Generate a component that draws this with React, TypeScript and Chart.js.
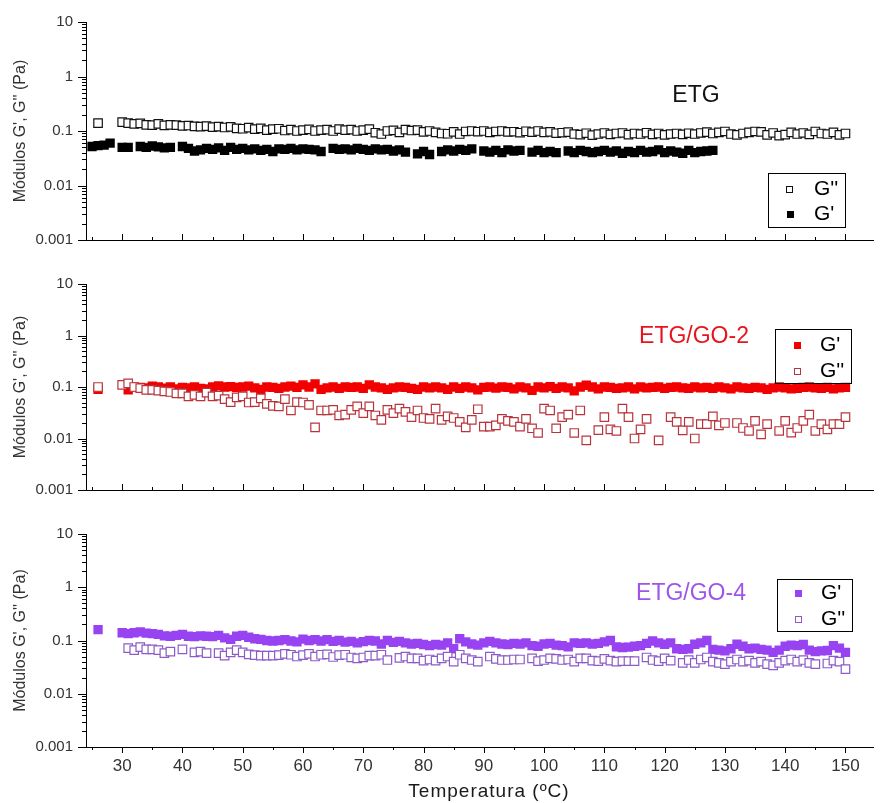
import React, { useEffect, useRef } from "react";
import { Chart, registerables } from "chart.js";

Chart.register(...registerables);

// Temperature (°C) grid, one reading per degree
const temps = [
  25, 26, 27, 28, 29, 30, 31, 32, 33, 34,
  35, 36, 37, 38, 39, 40, 41, 42, 43, 44,
  45, 46, 47, 48, 49, 50, 51, 52, 53, 54,
  55, 56, 57, 58, 59, 60, 61, 62, 63, 64,
  65, 66, 67, 68, 69, 70, 71, 72, 73, 74,
  75, 76, 77, 78, 79, 80, 81, 82, 83, 84,
  85, 86, 87, 88, 89, 90, 91, 92, 93, 94,
  95, 96, 97, 98, 99, 100, 101, 102, 103, 104,
  105, 106, 107, 108, 109, 110, 111, 112, 113, 114,
  115, 116, 117, 118, 119, 120, 121, 122, 123, 124,
  125, 126, 127, 128, 129, 130, 131, 132, 133, 134,
  135, 136, 137, 138, 139, 140, 141, 142, 143, 144,
  145, 146, 147, 148, 149, 150,
];

// ETG — G'' (open) and G' (filled), Pa
const etgGpp = [
  null, 0.14, null, null, null, 0.145, 0.14, 0.135, 0.138, 0.13,
  0.128, 0.135, 0.127, 0.13, 0.128, 0.124, 0.126, 0.122, 0.12, 0.123,
  0.118, 0.12, 0.116, 0.119, 0.112, 0.11, 0.115, 0.108, 0.112, 0.104,
  0.108, 0.11, 0.102, 0.106, 0.1, 0.104, 0.107, 0.1, 0.104, 0.106,
  0.1, 0.108, 0.104, 0.106, 0.1, 0.104, 0.108, 0.093, 0.088, 0.1,
  0.103, 0.094, 0.106, 0.102, 0.104, 0.096, 0.1, 0.094, 0.09, 0.089,
  0.096, 0.088, 0.098, 0.1, 0.097, 0.1, 0.094, 0.098, 0.1, 0.096,
  0.097, 0.093, 0.099, 0.095, 0.1, 0.094, 0.096, 0.091, 0.093, 0.095,
  0.088, 0.086, 0.091, 0.084, 0.088, 0.092, 0.087, 0.09, 0.092, 0.086,
  0.09, 0.088, 0.093, 0.087, 0.09, 0.085, 0.088, 0.09, 0.087, 0.091,
  0.088, 0.092, 0.095, 0.09, 0.094, 0.098, 0.088, 0.085, 0.09, 0.094,
  0.098, 0.096, 0.085, 0.092, 0.082, 0.086, 0.094, 0.088, 0.092, 0.087,
  0.098, 0.09, 0.088, 0.094, 0.085, 0.09,
];
const etgGp = [
  0.052, 0.054, 0.055, 0.06, null, 0.05, 0.05, null, 0.052, 0.05,
  0.053, 0.051, 0.049, 0.05, null, 0.052, 0.048, 0.043, 0.045, 0.048,
  0.046, 0.049, 0.044, 0.05, 0.046, 0.048, 0.045, 0.047, 0.044, 0.046,
  0.042, 0.047, 0.046, 0.048, 0.045, 0.047, 0.046, 0.045, 0.042, null,
  0.048, 0.046, 0.047, 0.045, 0.048, 0.046, 0.044, 0.047, 0.045, 0.046,
  0.043, 0.045, 0.041, null, 0.038, 0.042, 0.037, null, 0.042, 0.045,
  0.043, 0.046, 0.044, 0.047, null, 0.043, 0.041, 0.044, 0.04, 0.045,
  0.043, 0.044, null, 0.041, 0.044, 0.04, 0.042, 0.04, null, 0.043,
  0.04, 0.044, 0.042, 0.04, 0.042, 0.044, 0.041, 0.043, 0.039, 0.042,
  0.04, 0.044, 0.041, 0.042, 0.045, 0.04, 0.043, 0.041, 0.039, 0.044,
  0.04, 0.042, 0.043, 0.044, null, null, null, null, null, null,
  null, null, null, null, null, null, null, null, null, null,
  null, null, null, null, null, null,
];

// ETG/GO-2
const go2Gp = [
  null, 0.09, null, null, null, null, 0.088, 0.1, 0.098, 0.096,
  0.104, 0.1, 0.095, 0.1, 0.092, 0.098, 0.096, 0.1, 0.094, 0.092,
  0.1, 0.105, 0.1, 0.102, 0.098, 0.1, 0.104, 0.096, 0.09, 0.1,
  0.098, 0.094, 0.1, 0.104, 0.098, 0.11, 0.1, 0.115, 0.09, 0.096,
  0.1, 0.094, 0.1, 0.098, 0.1, 0.094, 0.11, 0.1, 0.096, 0.09,
  0.096, 0.1, 0.098, 0.094, 0.09, 0.1, 0.096, 0.1, 0.096, 0.09,
  0.1, 0.094, 0.1, 0.096, 0.088, 0.098, 0.1, 0.095, 0.1, 0.098,
  0.092, 0.1, 0.096, 0.086, 0.1, 0.096, 0.102, 0.094, 0.1, 0.096,
  0.084, 0.1, 0.108, 0.1, 0.092, 0.1, 0.098, 0.094, 0.096, 0.1,
  0.092, 0.1, 0.096, 0.098, 0.1, 0.094, 0.098, 0.1, 0.096, 0.094,
  0.1, 0.096, 0.098, 0.094, 0.1, 0.096, 0.092, 0.1, 0.096, 0.094,
  0.098, 0.096, 0.09, 0.096, 0.1, 0.096, 0.092, 0.094, 0.098, 0.1,
  0.096, 0.094, 0.098, 0.092, 0.096, 0.098,
];
const go2Gpp = [
  null, 0.1, null, null, null, 0.11, 0.118, 0.1, 0.095, 0.088,
  0.088, 0.085, 0.082, 0.08, 0.075, 0.075, 0.066, 0.07, 0.066, 0.078,
  0.066, 0.068, 0.058, 0.051, 0.063, 0.066, 0.05, 0.051, 0.06, 0.047,
  0.043, 0.042, 0.058, 0.035, 0.051, 0.05, 0.045, 0.0165, 0.035, 0.035,
  0.036, 0.028, 0.029, 0.036, 0.042, 0.031, 0.042, 0.028, 0.023, 0.036,
  0.031, 0.038, 0.033, 0.026, 0.035, 0.025, 0.024, 0.038, 0.023, 0.027,
  0.025, 0.021, 0.0165, 0.023, 0.037, 0.017, 0.017, 0.018, 0.024, 0.022,
  0.021, 0.017, 0.024, 0.0158, 0.0128, 0.038, 0.035, 0.0158, 0.026, 0.029,
  0.0128, 0.035, 0.0092, null, 0.0146, 0.026, 0.015, 0.014, 0.038, 0.026,
  0.01, 0.015, 0.024, null, 0.0092, null, 0.026, 0.021, 0.0144, 0.021,
  0.01, 0.019, 0.019, 0.027, 0.018, 0.02, null, 0.02, 0.016, 0.014,
  0.022, 0.012, 0.019, null, 0.014, 0.022, 0.013, 0.016, 0.022, 0.029,
  0.014, 0.019, 0.015, 0.019, 0.019, 0.026,
];

// ETG/GO-4
const go4Gp = [
  null, 0.16, null, null, null, 0.14, 0.135, 0.14, 0.145, 0.138,
  0.135, 0.13, 0.122, 0.12, 0.125, 0.13, 0.12, 0.118, 0.122, 0.12,
  0.118, 0.125, 0.112, 0.105, 0.12, 0.125, 0.115, 0.108, 0.105, 0.1,
  0.098, 0.1, 0.104, 0.098, 0.094, 0.106, 0.1, 0.104, 0.098, 0.104,
  0.096, 0.1, 0.093, 0.096, 0.09, 0.095, 0.1, 0.098, 0.086, 0.1,
  0.092, 0.096, 0.09, 0.086, 0.088, 0.084, 0.08, 0.084, 0.082, 0.09,
  0.07, 0.108, 0.094, 0.086, 0.082, 0.09, 0.096, 0.09, 0.086, 0.084,
  0.088, 0.086, 0.09, 0.08, 0.078, 0.086, 0.088, 0.082, 0.08, 0.076,
  0.09, 0.088, 0.09, 0.086, 0.088, 0.094, 0.1, 0.076, 0.074, 0.075,
  0.078, 0.08, 0.088, 0.098, 0.09, 0.085, 0.09, 0.07, 0.068, 0.07,
  0.085, 0.09, 0.1, 0.068, 0.066, 0.064, 0.07, 0.085, 0.078, 0.07,
  0.072, 0.068, 0.066, 0.06, 0.066, 0.078, 0.082, 0.08, 0.084, 0.066,
  0.062, 0.064, 0.065, 0.08, 0.072, 0.06,
];
const go4Gpp = [
  null, null, null, null, null, null, 0.072, 0.066, 0.075, 0.068,
  0.068, 0.066, 0.058, 0.062, null, 0.068, null, 0.06, 0.062, 0.058,
  null, 0.058, 0.052, 0.06, 0.066, 0.06, 0.055, 0.053, 0.052, 0.052,
  0.052, 0.053, 0.056, 0.054, 0.05, 0.053, 0.056, 0.05, 0.054, 0.055,
  0.049, 0.053, 0.054, 0.048, 0.046, 0.048, 0.052, 0.052, 0.054, 0.043,
  null, 0.047, 0.05, 0.046, 0.046, 0.042, 0.044, 0.042, 0.046, 0.05,
  0.04, 0.054, 0.046, 0.043, 0.04, null, 0.05, 0.045, 0.043, 0.043,
  0.044, 0.044, null, 0.046, 0.041, 0.043, 0.046, 0.045, 0.043, 0.044,
  0.04, 0.046, 0.046, 0.042, 0.041, 0.045, 0.042, 0.04, 0.041, 0.041,
  0.041, null, 0.048, 0.043, 0.041, 0.046, 0.042, null, 0.038, 0.043,
  0.038, 0.044, 0.048, 0.04, 0.038, 0.036, 0.04, 0.044, 0.04, 0.042,
  0.038, 0.04, 0.036, 0.034, 0.038, 0.042, 0.044, 0.04, 0.043, 0.038,
  0.036, null, 0.037, 0.042, 0.04, 0.029,
];

// Axis ticks
const xTickLabels = [30, 40, 50, 60, 70, 80, 90, 100, 110, 120, 130, 140, 150];
const xMinorTicks = [25, 35, 45, 55, 65, 75, 85, 95, 105, 115, 125, 135, 145];
const yTickLabels = [0.001, 0.01, 0.1, 1, 10];
const yMinorMultipliers = [2, 3, 4, 5, 6, 7, 8, 9];

const FONT = "'Liberation Sans', Arial, Helvetica, sans-serif";
const yTitle = "Módulos G', G'' (Pa)";
const xTitle = "Temperatura (ºC)";

type LegendItem = { label: string; filled: boolean; color: string };
type Panel = {
  top: number;
  height: number;
  padTop: number;
  axisBottom: number; // chart-area bottom in canvas coords
  showXLabels: boolean;
  ticksOut: boolean;
  series: { values: (number | null)[]; filled: boolean; color: string; label: string }[];
  annotation: { text: string; x: number; y: number; color: string };
  legendBox: { x1: number; y1: number; x2: number; y2: number };
  legendItems: (LegendItem & { mx: number; my: number; tx: number })[];
};

const panels: Panel[] = [
  {
    top: 0,
    height: 262,
    padTop: 15,
    axisBottom: 241,
    showXLabels: false,
    ticksOut: false,
    series: [
      { values: etgGpp, filled: false, color: "#111111", label: "G''" },
      { values: etgGp, filled: true, color: "#000000", label: "G'" },
    ],
    annotation: { text: "ETG", x: 696, y: 96, color: "#111111" },
    legendBox: { x1: 768, y1: 173, x2: 845, y2: 227 },
    legendItems: [
      { label: "G''", filled: false, color: "#111111", mx: 789, my: 189, tx: 814 },
      { label: "G'", filled: true, color: "#000000", mx: 790, my: 214, tx: 814 },
    ],
  },
  {
    top: 262,
    height: 250,
    padTop: 18,
    axisBottom: 237,
    showXLabels: false,
    ticksOut: false,
    series: [
      { values: go2Gpp, filled: false, color: "#B8343C", label: "G''" },
      { values: go2Gp, filled: true, color: "#F20000", label: "G'" },
    ],
    annotation: { text: "ETG/GO-2", x: 694, y: 75, color: "#E8141B" },
    legendBox: { x1: 775, y1: 67, x2: 851, y2: 121 },
    legendItems: [
      { label: "G'", filled: true, color: "#F20000", mx: 797, my: 83, tx: 820 },
      { label: "G''", filled: false, color: "#B8343C", mx: 797, my: 109, tx: 820 },
    ],
  },
  {
    top: 512,
    height: 291,
    padTop: 13,
    axisBottom: 235,
    showXLabels: true,
    ticksOut: true,
    series: [
      { values: go4Gpp, filled: false, color: "#8C5BC8", label: "G''" },
      { values: go4Gp, filled: true, color: "#9843F2", label: "G'" },
    ],
    annotation: { text: "ETG/GO-4", x: 691, y: 82, color: "#9F55E8" },
    legendBox: { x1: 777, y1: 67, x2: 852, y2: 119 },
    legendItems: [
      { label: "G'", filled: true, color: "#9843F2", mx: 798, my: 81, tx: 821 },
      { label: "G''", filled: false, color: "#8C5BC8", mx: 798, my: 107, tx: 821 },
    ],
  },
];

function drawSquare(ctx: CanvasRenderingContext2D, x: number, y: number, s: number, filled: boolean, color: string) {
  if (filled) {
    ctx.fillStyle = color;
    ctx.fillRect(Math.round(x - s / 2), Math.round(y - s / 2), s, s);
  } else {
    ctx.fillStyle = "#ffffff";
    ctx.strokeStyle = color;
    ctx.lineWidth = 1;
    const x0 = Math.round(x - s / 2) + 0.5;
    const y0 = Math.round(y - s / 2) + 0.5;
    ctx.fillRect(x0, y0, s - 1, s - 1);
    ctx.strokeRect(x0, y0, s - 1, s - 1);
  }
}

function makeDecor(p: Panel, isLast: boolean) {
  return {
    id: "decor",
    afterDraw(chart: any) {
      const { ctx, chartArea: a, scales } = chart;
      const xs = scales.x;
      const ys = scales.y;
      ctx.save();
      ctx.strokeStyle = "#000";
      ctx.lineWidth = 1;
      ctx.beginPath();
      const dir = p.ticksOut ? 1 : -1;
      const yb = Math.round(a.bottom);
      xTickLabels.forEach((v) => {
        const px = Math.round(xs.getPixelForValue(v)) + 0.5;
        ctx.moveTo(px, yb);
        ctx.lineTo(px, yb + dir * 6);
      });
      xMinorTicks.forEach((v) => {
        const px = Math.round(xs.getPixelForValue(v)) + 0.5;
        ctx.moveTo(px, yb);
        ctx.lineTo(px, yb + dir * 3);
      });
      const xl = Math.round(a.left);
      yTickLabels.forEach((d) => {
        const py = Math.round(ys.getPixelForValue(d)) + 0.5;
        ctx.moveTo(xl, py);
        ctx.lineTo(xl - 8, py);
        if (d < 10) {
          yMinorMultipliers.forEach((m) => {
            const q = Math.round(ys.getPixelForValue(d * m)) + 0.5;
            ctx.moveTo(xl, q);
            ctx.lineTo(xl - 4, q);
          });
        }
      });
      ctx.stroke();

      // panel annotation
      ctx.font = `23px ${FONT}`;
      ctx.fillStyle = p.annotation.color;
      ctx.textAlign = "center";
      ctx.textBaseline = "middle";
      ctx.fillText(p.annotation.text, p.annotation.x, p.annotation.y);

      // legend
      const b = p.legendBox;
      ctx.strokeStyle = "#000";
      ctx.lineWidth = 1;
      ctx.strokeRect(b.x1 + 0.5, b.y1 + 0.5, b.x2 - b.x1, b.y2 - b.y1);
      p.legendItems.forEach((it) => {
        drawSquare(ctx, it.mx, it.my, 7, it.filled, it.color);
        ctx.fillStyle = "#000";
        ctx.textAlign = "left";
        ctx.textBaseline = "middle";
        ctx.font = `21px ${FONT}`;
        ctx.fillText(it.label, it.tx, it.my);
      });

      if (isLast) {
        ctx.font = `19px ${FONT}`;
        (ctx as any).letterSpacing = "1px";
        ctx.fillStyle = "#1a1a1a";
        ctx.textAlign = "center";
        ctx.textBaseline = "alphabetic";
        ctx.fillText(xTitle, 489, 797 - p.top);
      }
      ctx.restore();
    },
  };
}

function PanelChart({ p, isLast }: { p: Panel; isLast: boolean }) {
  const ref = useRef<HTMLCanvasElement | null>(null);
  useEffect(() => {
    if (!ref.current) return;
    const datasets = p.series.map((s) => ({
      label: s.label,
      data: temps
        .map((t, k) => ({ x: t, y: s.values[k] }))
        .filter((d) => d.y !== null && d.y !== undefined),
      pointStyle: "rect",
      pointRadius: s.filled ? 6.6 : 6.0,
      borderWidth: s.filled ? 0 : 1.2,
      backgroundColor: s.filled ? s.color : "#ffffff",
      borderColor: s.color,
      showLine: false,
      order: s.filled ? 1 : 0,
    }));
    const chart = new Chart(ref.current, {
      type: "scatter",
      data: { datasets: datasets as any },
      options: {
        animation: false,
        responsive: false,
        events: [],
        layout: { padding: { top: p.padTop, left: 0, right: 0, bottom: 0 } },
        plugins: { legend: { display: false }, tooltip: { enabled: false } },
        scales: {
          x: {
            type: "linear",
            min: 24,
            max: 154.7,
            grid: { display: false, drawTicks: false },
            border: { display: true, color: "#000", width: 1 },
            afterBuildTicks: (scale: any) => {
              scale.ticks = xTickLabels.map((v) => ({ value: v }));
            },
            afterFit: (scale: any) => {
              scale.height = p.height - p.axisBottom;
            },
            ticks: {
              display: p.showXLabels,
              autoSkip: false,
              maxRotation: 0,
              padding: 9,
              color: "#333",
              font: { family: FONT, size: 17 },
              callback: (v: any) => String(v),
            },
          },
          y: {
            type: "logarithmic",
            min: 0.001,
            max: 10,
            grid: { display: false, drawTicks: false },
            border: { display: true, color: "#000", width: 1 },
            afterBuildTicks: (scale: any) => {
              scale.ticks = yTickLabels.map((v) => ({ value: v }));
            },
            afterFit: (scale: any) => {
              scale.width = 86;
            },
            ticks: {
              padding: 13,
              color: "#333",
              font: { family: FONT, size: 15 },
              callback: (v: any) => String(v),
            },
            title: {
              display: true,
              text: yTitle,
              color: "#333",
              font: { family: FONT, size: 16, lineHeight: 1.2 },
              padding: { top: 11, bottom: 0 },
            },
          },
        },
      },
      plugins: [makeDecor(p, isLast)],
    });
    return () => chart.destroy();
  }, [p, isLast]);
  return (
    <canvas
      ref={ref}
      width={881}
      height={p.height}
      style={{ position: "absolute", left: 0, top: p.top, width: 881, height: p.height }}
    />
  );
}

export default function App() {
  return (
    <div
      style={{
        position: "fixed",
        left: 0,
        top: 0,
        width: 881,
        height: 803,
        background: "#ffffff",
        overflow: "hidden",
      }}
    >
      {panels.map((p, i) => (
        <PanelChart key={i} p={p} isLast={i === panels.length - 1} />
      ))}
    </div>
  );
}
